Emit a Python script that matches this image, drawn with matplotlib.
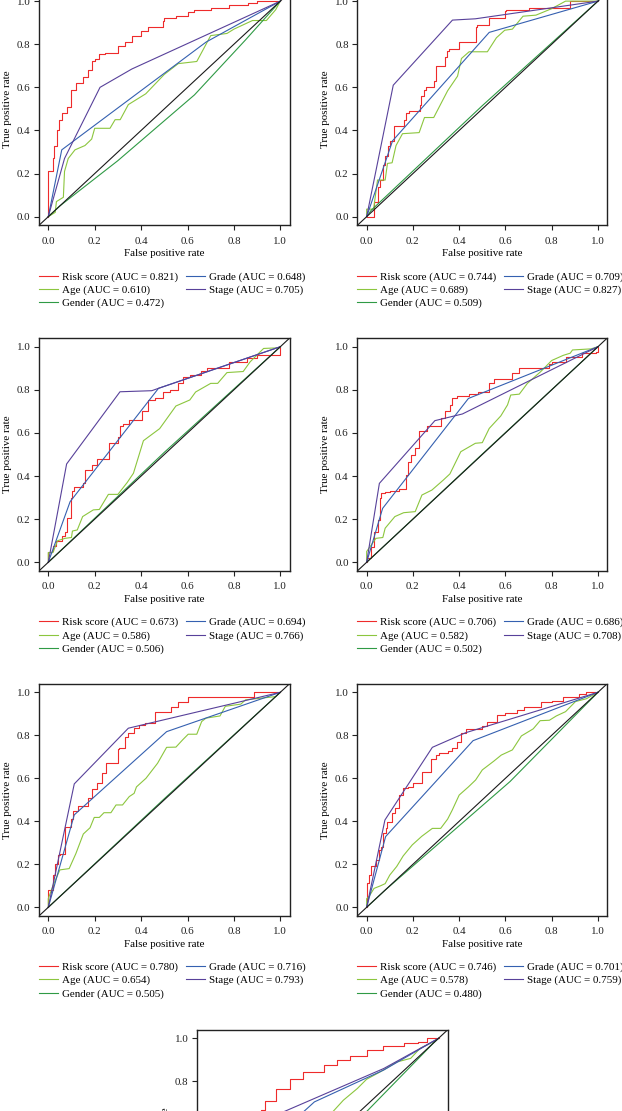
import numpy as np
import matplotlib
matplotlib.use('Agg')
import matplotlib.pyplot as plt

# ROC curve vertices (fpr, tpr), panels 1-7
risk_1 = [(0, 0), (0, 0.17), (0.01, 0.21), (0.02, 0.21), (0.024, 0.27), (0.036, 0.33), (0.047, 0.40),
          (0.059, 0.45), (0.079, 0.48), (0.096, 0.51), (0.10, 0.55), (0.12, 0.59), (0.13, 0.62), (0.15, 0.62),
          (0.17, 0.65), (0.19, 0.68), (0.20, 0.72), (0.22, 0.73), (0.245, 0.755), (0.27, 0.76), (0.30, 0.76),
          (0.33, 0.79), (0.36, 0.81), (0.40, 0.84), (0.43, 0.86), (0.46, 0.88), (0.495, 0.88), (0.50, 0.91),
          (0.55, 0.92), (0.60, 0.93), (0.63, 0.95), (0.70, 0.96), (0.78, 0.97), (0.86, 0.98), (0.90, 0.99),
          (0.91, 1.0), (1, 1)]
age_1 = [(0, 0), (0.03, 0.02), (0.035, 0.07), (0.065, 0.09), (0.07, 0.21), (0.086, 0.27), (0.115, 0.31),
         (0.158, 0.33), (0.187, 0.36), (0.20, 0.41), (0.266, 0.41), (0.288, 0.45), (0.31, 0.45), (0.345, 0.52),
         (0.42, 0.57), (0.50, 0.66), (0.56, 0.71), (0.64, 0.72), (0.70, 0.84), (0.77, 0.85), (0.80, 0.87),
         (0.88, 0.91), (0.94, 0.91), (0.98, 0.96), (0.99, 0.98), (1, 1)]
gender_1 = [(0, 0), (0.05, 0.05), (0.30, 0.26), (0.63, 0.565), (0.85, 0.82), (1, 1)]
grade_1 = [(0, 0), (0.058, 0.31), (0.68, 0.81), (1, 1)]
stage_1 = [(0, 0), (0.07, 0.27), (0.223, 0.60), (0.36, 0.685), (1, 1)]

risk_2 = [(0, 0), (0.03, 0), (0.03, 0.07), (0.047, 0.07), (0.047, 0.11), (0.058, 0.14), (0.07, 0.17),
          (0.08, 0.24), (0.094, 0.28), (0.10, 0.33), (0.12, 0.35), (0.13, 0.42), (0.163, 0.42), (0.17, 0.45),
          (0.184, 0.48), (0.21, 0.49), (0.23, 0.49), (0.237, 0.52), (0.25, 0.56), (0.256, 0.59), (0.29, 0.60),
          (0.30, 0.63), (0.30, 0.70), (0.34, 0.70), (0.347, 0.74), (0.357, 0.77), (0.40, 0.78), (0.40, 0.81),
          (0.472, 0.81), (0.475, 0.88), (0.51, 0.89), (0.53, 0.89), (0.537, 0.92), (0.597, 0.92),
          (0.604, 0.955), (0.70, 0.96), (0.88, 0.97), (0.89, 1.0), (1, 1)]
age_2 = [(0, 0), (0, 0.035), (0.03, 0.035), (0.047, 0.17), (0.08, 0.17), (0.09, 0.247), (0.11, 0.25),
         (0.127, 0.33), (0.155, 0.385), (0.227, 0.39), (0.25, 0.46), (0.29, 0.46), (0.35, 0.584),
         (0.393, 0.652), (0.41, 0.734), (0.443, 0.765), (0.522, 0.765), (0.561, 0.83), (0.597, 0.865),
         (0.63, 0.87), (0.676, 0.93), (0.732, 0.935), (0.80, 0.965), (0.86, 1.0), (1, 1)]
gender_2 = [(0, 0), (0.02, 0.03), (0.5, 0.515), (1, 1)]
grade_2 = [(0, 0), (0.112, 0.352), (0.53, 0.855), (1, 1)]
stage_2 = [(0, 0), (0.115, 0.61), (0.371, 0.912), (0.47, 0.918), (1, 1)]

risk_3 = [(0, 0), (0.014, 0.046), (0.02, 0.05), (0.033, 0.076), (0.043, 0.10), (0.06, 0.10), (0.07, 0.12),
          (0.079, 0.14), (0.086, 0.204), (0.10, 0.204), (0.104, 0.30), (0.11, 0.33), (0.13, 0.35), (0.15, 0.35),
          (0.16, 0.37), (0.187, 0.43), (0.21, 0.45), (0.237, 0.478), (0.26, 0.48), (0.273, 0.552), (0.30, 0.552),
          (0.31, 0.58), (0.324, 0.632), (0.35, 0.64), (0.403, 0.66), (0.43, 0.70), (0.46, 0.753), (0.496, 0.76),
          (0.525, 0.79), (0.56, 0.80), (0.58, 0.83), (0.61, 0.858), (0.66, 0.87), (0.683, 0.889), (0.78, 0.90),
          (0.856, 0.93), (0.90, 0.95), (0.92, 0.96), (1.0, 0.96), (1, 1)]
age_3 = [(0, 0), (0, 0.045), (0.02, 0.045), (0.04, 0.10), (0.072, 0.111), (0.10, 0.115), (0.104, 0.145),
         (0.125, 0.15), (0.148, 0.212), (0.194, 0.243), (0.22, 0.245), (0.259, 0.315), (0.30, 0.315),
         (0.34, 0.37), (0.367, 0.413), (0.41, 0.564), (0.48, 0.62), (0.52, 0.68), (0.55, 0.725), (0.61, 0.753),
         (0.635, 0.79), (0.70, 0.83), (0.73, 0.83), (0.77, 0.88), (0.84, 0.885), (0.87, 0.93), (0.928, 0.992),
         (0.995, 0.995), (1, 1)]
gender_3 = [(0, 0), (0.5, 0.51), (1, 1)]
grade_3 = [(0, 0), (0.094, 0.281), (0.475, 0.807), (1, 1)]
stage_3 = [(0, 0), (0.079, 0.456), (0.309, 0.791), (0.446, 0.796), (0.475, 0.807), (1, 1)]

risk_4 = [(0, 0), (0.02, 0.02), (0.03, 0.07), (0.033, 0.134), (0.05, 0.14), (0.058, 0.196), (0.062, 0.30),
          (0.079, 0.32), (0.10, 0.328), (0.14, 0.33), (0.155, 0.34), (0.17, 0.34), (0.177, 0.405),
          (0.191, 0.467), (0.21, 0.50), (0.227, 0.529), (0.263, 0.61), (0.292, 0.63), (0.32, 0.63), (0.34, 0.67),
          (0.36, 0.70), (0.37, 0.73), (0.39, 0.76), (0.443, 0.77), (0.48, 0.78), (0.53, 0.79), (0.55, 0.83),
          (0.60, 0.85), (0.63, 0.85), (0.66, 0.88), (0.72, 0.90), (0.79, 0.90), (0.80, 0.92), (0.86, 0.93),
          (0.93, 0.954), (0.99, 0.97), (1.0, 0.977), (1, 1)]
age_4 = [(0, 0), (0, 0.05), (0.04, 0.111), (0.07, 0.115), (0.08, 0.158), (0.122, 0.212), (0.16, 0.23),
         (0.21, 0.235), (0.239, 0.312), (0.282, 0.335), (0.33, 0.38), (0.36, 0.41), (0.407, 0.513),
         (0.47, 0.552), (0.50, 0.555), (0.53, 0.621), (0.58, 0.679), (0.609, 0.73), (0.623, 0.776), (0.66, 0.78),
         (0.695, 0.83), (0.752, 0.884), (0.80, 0.936), (0.85, 0.96), (0.88, 0.97), (0.89, 0.985), (0.97, 0.99),
         (1, 1)]
gender_4 = [(0, 0), (0.5, 0.502), (1, 1)]
grade_4 = [(0, 0), (0.069, 0.25), (0.44, 0.76), (1, 1)]
stage_4 = [(0, 0), (0.055, 0.366), (0.295, 0.657), (0.414, 0.688), (1, 1)]

risk_5 = [(0, 0), (0.019, 0.08), (0.03, 0.15), (0.04, 0.20), (0.05, 0.243), (0.07, 0.25), (0.073, 0.30),
          (0.083, 0.375), (0.10, 0.375), (0.108, 0.41), (0.13, 0.45), (0.141, 0.471), (0.17, 0.471),
          (0.188, 0.507), (0.21, 0.55), (0.231, 0.58), (0.249, 0.623), (0.259, 0.67), (0.30, 0.67),
          (0.306, 0.735), (0.33, 0.74), (0.342, 0.79), (0.37, 0.81), (0.392, 0.833), (0.418, 0.85),
          (0.46, 0.855), (0.464, 0.91), (0.53, 0.91), (0.557, 0.93), (0.60, 0.955), (0.622, 0.977),
          (0.888, 0.98), (0.89, 1.0), (1, 1)]
age_5 = [(0, 0), (0, 0.04), (0.02, 0.10), (0.05, 0.174), (0.09, 0.18), (0.119, 0.25), (0.151, 0.341),
         (0.18, 0.37), (0.198, 0.418), (0.22, 0.418), (0.24, 0.44), (0.27, 0.44), (0.292, 0.476), (0.32, 0.476),
         (0.349, 0.515), (0.37, 0.53), (0.38, 0.56), (0.421, 0.60), (0.471, 0.67), (0.51, 0.744), (0.55, 0.745),
         (0.58, 0.78), (0.603, 0.805), (0.64, 0.805), (0.661, 0.864), (0.68, 0.88), (0.74, 0.89),
         (0.763, 0.935), (0.83, 0.945), (0.85, 0.965), (0.98, 0.98), (1, 1)]
gender_5 = [(0, 0), (0.5, 0.505), (1, 1)]
grade_5 = [(0, 0), (0.112, 0.43), (0.51, 0.817), (1, 1)]
stage_5 = [(0, 0), (0.112, 0.574), (0.345, 0.833), (1, 1)]

risk_6 = [(0, 0), (0, 0.03), (0.01, 0.112), (0.02, 0.15), (0.025, 0.19), (0.04, 0.19), (0.053, 0.22),
          (0.063, 0.267), (0.07, 0.28), (0.082, 0.344), (0.09, 0.37), (0.111, 0.398), (0.121, 0.437),
          (0.14, 0.46), (0.156, 0.522), (0.179, 0.553), (0.20, 0.56), (0.212, 0.58), (0.24, 0.58),
          (0.262, 0.631), (0.28, 0.631), (0.298, 0.69), (0.313, 0.709), (0.35, 0.72), (0.37, 0.729),
          (0.39, 0.74), (0.41, 0.77), (0.428, 0.812), (0.457, 0.828), (0.50, 0.83), (0.52, 0.845),
          (0.562, 0.86), (0.60, 0.895), (0.65, 0.905), (0.68, 0.92), (0.752, 0.93), (0.803, 0.953),
          (0.85, 0.96), (0.92, 0.98), (0.95, 0.99), (1, 1)]
age_6 = [(0, 0), (0, 0.04), (0.01, 0.05), (0.032, 0.088), (0.06, 0.10), (0.08, 0.11), (0.10, 0.15),
         (0.13, 0.19), (0.158, 0.239), (0.197, 0.29), (0.238, 0.33), (0.284, 0.367), (0.32, 0.367),
         (0.35, 0.41), (0.37, 0.452), (0.40, 0.522), (0.44, 0.56), (0.471, 0.592), (0.50, 0.639), (0.55, 0.68),
         (0.582, 0.708), (0.63, 0.732), (0.669, 0.797), (0.72, 0.83), (0.75, 0.868), (0.79, 0.87),
         (0.82, 0.89), (0.86, 0.91), (0.903, 0.957), (0.95, 0.97), (1, 1)]
gender_6 = [(0, 0), (0.08, 0.08), (0.62, 0.585), (1, 1)]
grade_6 = [(0, 0), (0.082, 0.329), (0.46, 0.775), (1, 1)]
stage_6 = [(0, 0), (0.079, 0.406), (0.284, 0.744), (0.428, 0.812), (1, 1)]

# last panel is cut off by the page: only its upper part is known
risk_7 = [(0.235, 0.64), (0.253, 0.667), (0.30, 0.71), (0.36, 0.767), (0.418, 0.81), (0.505, 0.845),
          (0.562, 0.876), (0.62, 0.90), (0.69, 0.92), (0.76, 0.946), (0.85, 0.964), (0.91, 0.977),
          (0.95, 0.985), (1, 1)]
age_7 = [(0.53, 0.64), (0.545, 0.66), (0.59, 0.713), (0.65, 0.767), (0.69, 0.81), (0.75, 0.845),
         (0.82, 0.89), (0.88, 0.907), (0.92, 0.953), (0.98, 0.985), (1, 1)]
gender_7 = [(0, 0), (0.69, 0.66), (0.98, 0.98), (1, 1)]
grade_7 = [(0.40, 0.64), (0.418, 0.659), (0.465, 0.705), (0.764, 0.853), (1, 1)]
stage_7 = [(0.29, 0.64), (0.332, 0.659), (0.764, 0.86), (1, 1)]

auc_risk = [0.821, 0.744, 0.673, 0.706, 0.780, 0.746]
auc_age = [0.610, 0.689, 0.586, 0.582, 0.654, 0.578]
auc_gender = [0.472, 0.509, 0.506, 0.502, 0.505, 0.480]
auc_grade = [0.648, 0.709, 0.694, 0.686, 0.716, 0.701]
auc_stage = [0.705, 0.827, 0.766, 0.708, 0.793, 0.759]

names = ['Risk score', 'Age', 'Gender', 'Grade', 'Stage']
colors = ['#EE2B2B', '#8CC63E', '#2F9A45', '#3560B0', '#58419A']

panels = [
    [risk_1, age_1, gender_1, grade_1, stage_1],
    [risk_2, age_2, gender_2, grade_2, stage_2],
    [risk_3, age_3, gender_3, grade_3, stage_3],
    [risk_4, age_4, gender_4, grade_4, stage_4],
    [risk_5, age_5, gender_5, grade_5, stage_5],
    [risk_6, age_6, gender_6, grade_6, stage_6],
    [risk_7, age_7, gender_7, grade_7, stage_7],
]

plt.rcParams['font.family'] = ['Liberation Serif', 'DejaVu Serif']
plt.rcParams['font.size'] = 7.9

W, H = 622, 1111
fig = plt.figure(figsize=(W / 100, H / 100), dpi=100)

# axes boxes in pixels (page is cropped, so first and last rows run off it)
cols = {'L': (39, 289.6), 'R': (357.4, 607.2), 'C': (197.2, 447.8)}
rows = [(-7.5, 225.3), (338.1, 570.9), (683.7, 915.9), (1029.7, 1262.5)]
layout = [('L', 0), ('R', 0), ('L', 1), ('R', 1), ('L', 2), ('R', 2), ('C', 3)]

for i, (curves, (c, r)) in enumerate(zip(panels, layout)):
    x0, x1 = cols[c]
    top, bot = rows[r]
    ax = fig.add_axes([x0 / W, 1 - bot / H, (x1 - x0) / W, (bot - top) / H])

    lines = []
    for k, pts in enumerate(curves):
        xy = np.array(pts)
        ds = 'steps-pre' if k == 0 else 'default'
        ln, = ax.plot(xy[:, 0], xy[:, 1], color=colors[k], lw=0.8, drawstyle=ds)
        lines.append(ln)
    ax.axline((0, 0), slope=1, color='#1a1a1a', lw=0.8)

    ax.set_xlim(-0.04, 1.04)
    ax.set_ylim(-0.04, 1.04)
    ticks = np.arange(0, 1.01, 0.2)
    ax.set_xticks(ticks)
    ax.set_yticks(ticks)
    ax.set_xticklabels(['%.1f' % t for t in ticks])
    ax.set_yticklabels(['%.1f' % t for t in ticks])
    ax.tick_params(direction='out', length=3.8, width=0.8, colors='#222222')
    ax.tick_params(axis='x', pad=4.5)
    ax.tick_params(axis='y', pad=2.5)
    for s in ax.spines.values():
        s.set_linewidth(1.0)
        s.set_color('#222222')

    ax.set_xlabel('False positive rate')
    ax.set_ylabel('True positive rate')
    ax.xaxis.set_label_coords(0.5, -0.102)
    ax.yaxis.set_label_coords(-0.108, 0.5)

    if i < len(auc_risk):
        aucs = [auc_risk[i], auc_age[i], auc_gender[i], auc_grade[i], auc_stage[i]]
        labels = ['%s (AUC = %.3f)' % (n, a) for n, a in zip(names, aucs)]
        kw = dict(loc='upper left', frameon=False, borderpad=0, borderaxespad=0,
                  handlelength=1.7, handletextpad=0.37, labelspacing=0.3)
        leg1 = ax.legend(lines[:3], labels[:3], bbox_to_anchor=(0, -0.2), **kw)
        ax.add_artist(leg1)
        ax.legend(lines[3:], labels[3:], bbox_to_anchor=(0.587, -0.2), **kw)

fig.savefig('out.png', dpi=100)
